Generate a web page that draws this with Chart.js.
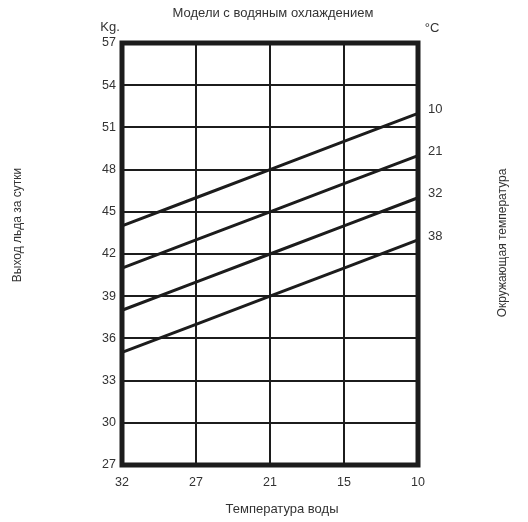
<!DOCTYPE html>
<html>
<head>
<meta charset="utf-8">
<script src="https://cdn.jsdelivr.net/npm/chart.js@4"></script>
<style>
  html, body { margin: 0; padding: 0; background: #fff; }
  canvas { display: block; }
</style>
</head>
<body>
<canvas id="chart" width="528" height="522"></canvas>
<script>
// температура воды (ось X, по убыванию)
const waterTemps = ['32', '27', '21', '15', '10']
// окружающая температура - подписи линий справа
const ambientTemps = ['10', '21', '32', '38']
// выход льда, кг/сутки
const out10 = [44, 46, 48, 50, 52]
const out21 = [41, 43, 45, 47, 49]
const out32 = [38, 40, 42, 44, 46]
const out38 = [35, 37, 39, 41, 43]
const yMin = 27
const yMax = 57
const yStep = 3

const font = '"Liberation Sans", Arial, sans-serif'
const ink = '#1c1c1c'
const textColor = '#333'

const series = [out10, out21, out32, out38]

const labelsPlugin = {
    id: 'labels',
    afterDatasetsDraw(chart) {
        const ctx = chart.ctx
        const a = chart.chartArea
        ctx.save()

        // рамка
        ctx.strokeStyle = ink
        ctx.lineWidth = 5
        ctx.strokeRect(a.left, a.top, a.right - a.left, a.bottom - a.top)

        ctx.fillStyle = textColor
        ctx.font = '13px ' + font
        ctx.textBaseline = 'middle'

        ctx.textAlign = 'center'
        ctx.fillText('Модели с водяным охлаждением', 273, 13)
        ctx.fillText('Kg.', 110, 27)
        ctx.fillText('°C', 432, 28)
        ctx.fillText('Температура воды', 282, 509)

        // подписи линий
        ctx.textAlign = 'left'
        chart.data.datasets.forEach((ds, i) => {
            const meta = chart.getDatasetMeta(i)
            const pt = meta.data[meta.data.length - 1]
            ctx.fillText(ds.label, a.right + 10, pt.y - 4)
        })

        // вертикальные подписи
        ctx.font = '12px ' + font
        ctx.textAlign = 'center'
        ctx.save()
        ctx.translate(18, 225)
        ctx.rotate(-Math.PI / 2)
        ctx.fillText('Выход льда за сутки', 0, 0)
        ctx.restore()

        ctx.save()
        ctx.translate(503, 243)
        ctx.rotate(-Math.PI / 2)
        ctx.fillText('Окружающая температура', 0, 0)
        ctx.restore()

        ctx.restore()
    }
}

new Chart(document.getElementById('chart'), {
    type: 'line',
    data: {
        labels: waterTemps,
        datasets: series.map((s, i) => ({
            label: ambientTemps[i],
            data: s,
            borderColor: ink,
            borderWidth: 3,
            pointRadius: 0,
            tension: 0,
            fill: false
        }))
    },
    options: {
        responsive: false,
        animation: false,
        layout: { padding: { top: 43, right: 110, bottom: 0, left: 0 } },
        plugins: {
            legend: { display: false },
            tooltip: { enabled: false }
        },
        scales: {
            x: {
                offset: false,
                border: { display: false },
                grid: { color: ink, lineWidth: 2, drawTicks: false },
                ticks: {
                    color: textColor,
                    font: { family: font, size: 12.5 },
                    padding: 10,
                    maxRotation: 0
                },
                afterFit: s => { s.height = 57 }
            },
            y: {
                min: yMin,
                max: yMax,
                border: { display: false },
                grid: { color: ink, lineWidth: 2, drawTicks: false },
                ticks: {
                    stepSize: yStep,
                    color: textColor,
                    font: { family: font, size: 12.5 },
                    padding: 6
                },
                afterFit: s => { s.width = 122 }
            }
        }
    },
    plugins: [labelsPlugin]
})
</script>
</body>
</html>
